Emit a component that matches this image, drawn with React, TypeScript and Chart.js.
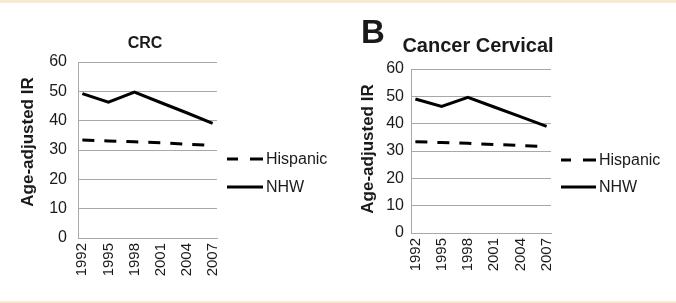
import React, { useEffect, useRef } from "react";
import { Chart, registerables } from "chart.js";

Chart.register(...registerables);

// ---- data ----
const years = [1992, 1995, 1998, 2001, 2004, 2007];
const tickYears = [1992, 1995, 1998, 2001, 2004, 2007];
const yTicks = [0, 10, 20, 30, 40, 50, 60];

const crcNHW = [49.2, 46.3, 49.7, 46.2, 42.7, 39.1];
const crcHispanic = [33.4, 33.1, 32.8, 32.5, 32.0, 31.6];

const cervNHW = [49.0, 46.3, 49.6, 46.1, 42.6, 39.0];
const cervHispanic = [33.4, 33.1, 32.8, 32.4, 32.0, 31.6];

const seriesNames = ["Hispanic", "NHW"];
const yAxisTitle = "Age-adjusted IR";

const FONT = "'Liberation Sans', Arial, Helvetica, sans-serif";
const GRID = "#a8a8a8";
const INK = "#1a1a1a";

type Panel = {
  title: string;
  titleSize: number;
  titleDx: number;
  titleBaseline: number;
  letter?: string;
  hispanic: number[];
  nhw: number[];
  area: { left: number; right: number; top: number; bottom: number };
  tickPad: number;
  yTitleDx: number;
  yTitleDy: number;
  legendY: number[];
  legendStart: number;
  legendEnd: number;
  legendText: number;
};

const W = 338;
const H = 303;

const panels: Panel[] = [
  {
    title: "CRC",
    titleSize: 16,
    titleDx: -2.5,
    titleBaseline: 48,
    hispanic: crcHispanic,
    nhw: crcNHW,
    area: { left: 78, right: 217, top: 62, bottom: 238 },
    tickPad: 11,
    yTitleDx: -50,
    yTitleDy: -8,
    legendY: [159, 187],
    legendStart: 10,
    legendEnd: 46,
    legendText: 49,
  },
  {
    title: "Cancer Cervical",
    titleSize: 20,
    titleDx: -3,
    titleBaseline: 52,
    letter: "B",
    hispanic: cervHispanic,
    nhw: cervNHW,
    area: { left: 73, right: 213, top: 69, bottom: 233 },
    tickPad: 7,
    yTitleDx: -43,
    yTitleDy: -2,
    legendY: [160, 187],
    legendStart: 10,
    legendEnd: 45,
    legendText: 48,
  },
];

function makeConfig(p: Panel): any {
  const annot = {
    id: "annot",
    afterDraw(chart: any) {
      const { ctx, chartArea: a } = chart;
      ctx.save();
      ctx.fillStyle = INK;
      // title
      ctx.font = `bold ${p.titleSize}px ${FONT}`;
      ctx.textAlign = "center";
      ctx.textBaseline = "alphabetic";
      ctx.fillText(p.title, (a.left + a.right) / 2 + p.titleDx, p.titleBaseline);
      // panel letter
      if (p.letter) {
        ctx.font = `bold 33px ${FONT}`;
        ctx.textAlign = "left";
        ctx.fillText(p.letter, 23, 43);
      }
      // y axis title
      ctx.save();
      ctx.translate(a.left + p.yTitleDx, (a.top + a.bottom) / 2 + p.yTitleDy);
      ctx.rotate(-Math.PI / 2);
      ctx.font = `bold 17px ${FONT}`;
      ctx.textAlign = "center";
      ctx.textBaseline = "middle";
      ctx.fillText(yAxisTitle, 0, 0);
      ctx.restore();
      // legend
      ctx.strokeStyle = "#000";
      ctx.lineWidth = 3;
      ctx.lineCap = "butt";
      seriesNames.forEach((name, i) => {
        const y = p.legendY[i];
        ctx.beginPath();
        ctx.setLineDash(i === 0 ? [13, 12] : []);
        ctx.moveTo(a.right + p.legendEnd, y);
        ctx.lineTo(a.right + p.legendStart, y);
        ctx.stroke();
        ctx.setLineDash([]);
        ctx.font = `16px ${FONT}`;
        ctx.textAlign = "left";
        ctx.textBaseline = "middle";
        ctx.fillText(name, a.right + p.legendText, y + 1);
      });
      ctx.restore();
    },
  };

  return {
    type: "line",
    data: {
      datasets: [
        {
          label: seriesNames[0],
          data: years.map((x, i) => ({ x, y: p.hispanic[i] })),
          borderColor: "#000",
          borderWidth: 3,
          borderDash: [12, 10],
          pointRadius: 0,
          tension: 0,
          fill: false,
        },
        {
          label: seriesNames[1],
          data: years.map((x, i) => ({ x, y: p.nhw[i] })),
          borderColor: "#000",
          borderWidth: 3,
          pointRadius: 0,
          tension: 0,
          fill: false,
        },
      ],
    },
    options: {
      responsive: false,
      animation: false,
      devicePixelRatio: 1,
      layout: {
        padding: { left: 0, top: p.area.top, right: W - p.area.right, bottom: 0 },
      },
      plugins: {
        legend: { display: false },
        tooltip: { enabled: false },
        title: { display: false },
      },
      scales: {
        x: {
          type: "linear",
          min: years[0] - 0.5,
          max: years[years.length - 1] + 0.5,
          afterBuildTicks: (axis: any) => {
            axis.ticks = tickYears.map((v) => ({ value: v }));
          },
          afterFit: (axis: any) => {
            axis.height = H - p.area.bottom;
          },
          grid: { display: false, drawTicks: false },
          border: { display: true, color: GRID, width: 1 },
          ticks: {
            autoSkip: false,
            minRotation: 90,
            maxRotation: 90,
            padding: 5,
            color: INK,
            font: { family: FONT, size: 15 },
            callback: (v: any) => String(v),
          },
        },
        y: {
          min: 0,
          max: 60,
          afterBuildTicks: (axis: any) => {
            axis.ticks = yTicks.map((v) => ({ value: v }));
          },
          afterFit: (axis: any) => {
            axis.width = p.area.left;
          },
          grid: { color: GRID, lineWidth: 1, drawTicks: false },
          border: { display: true, color: GRID, width: 1 },
          ticks: {
            padding: p.tickPad,
            color: INK,
            font: { family: FONT, size: 16 },
          },
        },
      },
    },
    plugins: [annot],
  };
}

function PanelChart({ p, left }: { p: Panel; left: number }) {
  const ref = useRef<HTMLCanvasElement | null>(null);
  useEffect(() => {
    if (!ref.current) return;
    const chart = new Chart(ref.current, makeConfig(p));
    return () => chart.destroy();
  }, [p]);
  return (
    <canvas
      ref={ref}
      width={W}
      height={H}
      style={{ position: "absolute", left, top: 0, width: W, height: H }}
    />
  );
}

export default function App() {
  return (
    <div
      style={{
        position: "fixed",
        left: 0,
        top: 0,
        width: 676,
        height: 303,
        background: "#ffffff",
        overflow: "hidden",
      }}
    >
      <div style={{ position: "absolute", left: 0, top: 0, width: 676, height: 3, background: "#fbead3" }} />
      <div style={{ position: "absolute", left: 0, top: 301, width: 676, height: 2, background: "#fbead3" }} />
      <PanelChart p={panels[0]} left={0} />
      <PanelChart p={panels[1]} left={338} />
    </div>
  );
}
